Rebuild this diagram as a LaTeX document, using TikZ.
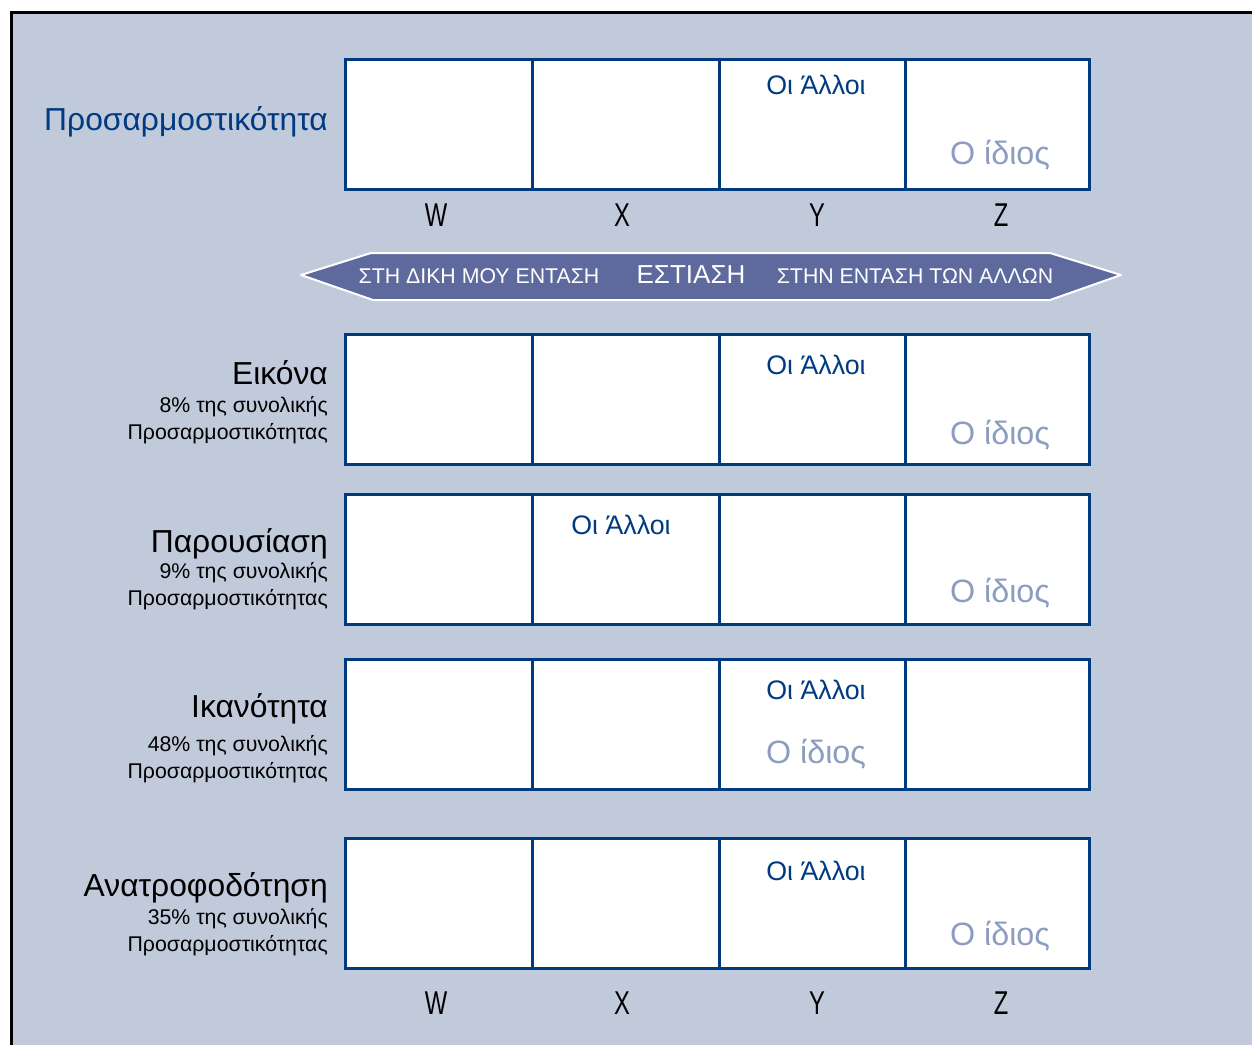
\documentclass[tikz,border=0pt]{standalone}
\usepackage{fontspec}
\usepackage{graphicx}
\setmainfont{Liberation Sans}
\definecolor{bg}{HTML}{C1CADB}
\definecolor{navy}{HTML}{003A80}
\definecolor{selfc}{HTML}{8C9DC0}
\definecolor{band}{HTML}{5E6A9E}
\tikzset{
  cell/.style={draw=navy,line width=3pt,fill=white,minimum width=187pt,minimum height=130pt,inner sep=0pt,anchor=north west},
  biglab/.style={anchor=east,inner sep=0pt,font=\fontsize{31.8}{34}\selectfont},
  smalllab/.style={anchor=east,inner sep=0pt,font=\fontsize{21.3}{24}\selectfont},
  others/.style={inner sep=0pt,text=navy,font=\fontsize{26.8}{30}\selectfont},
  self/.style={inner sep=0pt,text=selfc,font=\fontsize{32.3}{35}\selectfont},
  axis/.style={inner sep=0pt,font=\fontsize{33}{35}\selectfont},
  bandtxt/.style={inner sep=0pt,text=white,font=\fontsize{21.3}{23}\selectfont}
}
\newcommand{\axl}[1]{\scalebox{0.72}[1]{#1}}
\begin{document}
\begin{tikzpicture}[x=1pt,y=-1pt]
\useasboundingbox (0,0) rectangle (1252,1045);
\fill[white] (0,0) rectangle (1252,1045);
\fill[bg] (10,12) rectangle (1252,1045);
\draw[black,line width=3pt] (11,1045) -- (11,12.5) -- (1252,12.5);
% grid rows
\foreach \r/\y in {0/57.5,1/332.5,2/492.5,3/657.5,4/836.5}{
  \foreach \c/\x in {1/343.5,2/530.5,3/717.5,4/903.5}{
    \node[cell,minimum width={\ifnum\c=4 184pt\else 187pt\fi}] (r\r c\c) at (\x,\y) {};
  }
}
% top label
\node[biglab,text=navy] (tlab) at (328,122) {Προσαρμοστικότητα};
% axis letters
\node[axis] (w0) at (436,215) {\axl{W}};
\node[axis] (x0) at (622,215) {\axl{X}};
\node[axis] (y0) at (817,215) {\axl{Y}};
\node[axis] (z0) at (1001,215) {\axl{Z}};
\node[axis] (w1) at (436,1003) {\axl{W}};
\node[axis] (x1) at (622,1003) {\axl{X}};
\node[axis] (y1) at (817,1003) {\axl{Y}};
\node[axis] (z1) at (1001,1003) {\axl{Z}};
% banner
\draw[fill=band,draw=white,line width=2pt,line join=round] (301,275) -- (371,253) -- (1050,253) -- (1121,275) -- (1050,300) -- (373,300) -- cycle;
\node[bandtxt] (b1) at (479,276) {ΣΤΗ ΔΙΚΗ ΜΟΥ ΕΝΤΑΣΗ};
\node[bandtxt,font=\fontsize{26}{28}\selectfont] (b2) at (691,275) {ΕΣΤΙΑΣΗ};
\node[bandtxt] (b3) at (915,276) {ΣΤΗΝ ΕΝΤΑΣΗ ΤΩΝ ΑΛΛΩΝ};
% row labels
\node[biglab] (l1) at (328,373) {Εικόνα};
\node[smalllab] (l1a) at (328,407) {8\% της συνολικής};
\node[smalllab] (l1b) at (328,434) {Προσαρμοστικότητας};
\node[biglab] (l2) at (328,544) {Παρουσίαση};
\node[smalllab] (l2a) at (328,573) {9\% της συνολικής};
\node[smalllab] (l2b) at (328,600) {Προσαρμοστικότητας};
\node[biglab] (l3) at (328,709) {Ικανότητα};
\node[smalllab] (l3a) at (328,746) {48\% της συνολικής};
\node[smalllab] (l3b) at (328,773) {Προσαρμοστικότητας};
\node[biglab] (l4) at (328,888) {Ανατροφοδότηση};
\node[smalllab] (l4a) at (328,919) {35\% της συνολικής};
\node[smalllab] (l4b) at (328,946) {Προσαρμοστικότητας};
% others / self
\node[others] (o0) at (816,85) {Οι Άλλοι};
\node[self] (s0) at (1000,155) {Ο ίδιος};
\node[others] (o1) at (816,365) {Οι Άλλοι};
\node[self] (s1) at (1000,435) {Ο ίδιος};
\node[others] (o2) at (621,525) {Οι Άλλοι};
\node[self] (s2) at (1000,593) {Ο ίδιος};
\node[others] (o3) at (816,690) {Οι Άλλοι};
\node[self] (s3) at (816,754) {Ο ίδιος};
\node[others] (o4) at (816,871) {Οι Άλλοι};
\node[self] (s4) at (1000,936) {Ο ίδιος};
\end{tikzpicture}
\end{document}
